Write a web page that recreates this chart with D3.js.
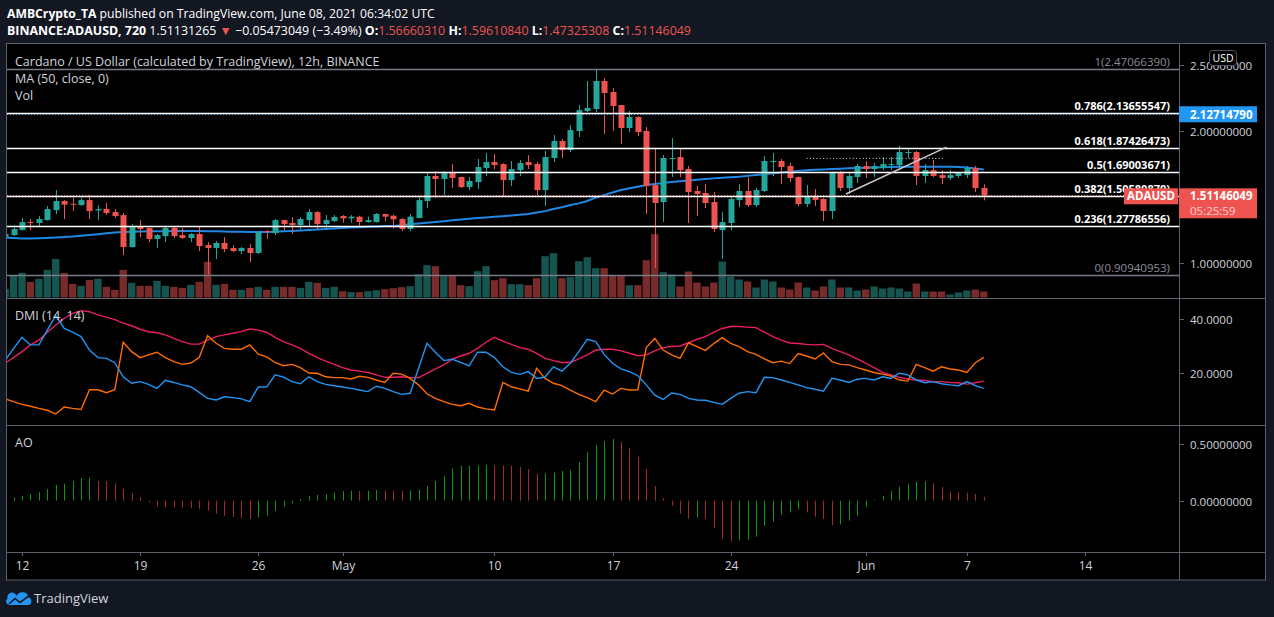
<!DOCTYPE html>
<html><head><meta charset="utf-8">
<script src="https://cdn.jsdelivr.net/npm/d3@7"></script>
<style>
html,body{margin:0;padding:0;background:#131722;overflow:hidden;}
svg{display:block;}
text{font-family:"Open Sans","Noto Sans",sans-serif;white-space:pre;}
</style></head><body>
<svg id="chart" width="1274" height="617"></svg>
<script>
// ---------- DATA (12h candles, first = 2021-04-11 00:00 UTC) ----------
const firstCandle = Date.UTC(2021, 3, 11, 0);
const opens = [1.194,1.209,1.247,1.308,1.301,1.323,1.399,1.468,1.447,1.437,
1.475,1.397,1.407,1.384,1.361,1.118,1.270,1.263,1.179,1.202,
1.263,1.209,1.187,1.217,1.133,1.111,1.149,1.111,1.088,1.111,
1.073,1.240,1.224,1.323,1.301,1.285,1.323,1.384,1.293,1.316,
1.354,1.336,1.349,1.308,1.308,1.369,1.356,1.331,1.255,1.339,
1.468,1.658,1.635,1.688,1.650,1.574,1.612,1.719,1.764,1.749,
1.627,1.703,1.764,1.749,1.551,1.795,1.924,1.855,2.000,2.152,
2.167,2.380,2.296,2.197,2.023,2.106,2.000,1.589,1.460,1.787,
1.802,1.711,1.544,1.529,1.460,1.247,1.301,1.475,1.544,1.437,
1.544,1.764,1.772,1.734,1.650,1.445,1.506,1.483,1.392,1.688,
1.567,1.650,1.734,1.711,1.719,1.741,1.741,1.833,1.840,1.658,
1.703,1.665,1.643,1.658,1.665,1.719,1.5666];
const highs = [1.220,1.285,1.339,1.331,1.354,1.430,1.551,1.475,1.493,1.493,
1.513,1.437,1.453,1.407,1.377,1.293,1.323,1.266,1.217,1.278,
1.278,1.263,1.224,1.270,1.156,1.164,1.194,1.133,1.118,1.141,
1.240,1.247,1.331,1.327,1.346,1.346,1.407,1.392,1.361,1.361,
1.361,1.361,1.356,1.349,1.377,1.372,1.364,1.339,1.369,1.496,
1.688,1.696,1.696,1.749,1.654,1.650,1.787,1.833,1.825,1.755,
1.772,1.779,1.817,1.764,1.848,1.969,1.939,2.045,2.197,2.380,
2.4707,2.403,2.327,2.200,2.152,2.114,2.030,1.863,1.817,1.947,
1.871,1.734,1.582,1.597,1.536,1.384,1.506,1.597,1.650,1.567,
1.810,1.833,1.787,1.757,1.655,1.589,1.559,1.490,1.692,1.696,
1.688,1.749,1.772,1.757,1.802,1.802,1.886,1.863,1.848,1.749,
1.779,1.703,1.703,1.688,1.734,1.734,1.5961];
const lows = [1.190,1.202,1.245,1.247,1.270,1.320,1.369,1.331,1.392,1.432,
1.331,1.323,1.361,1.341,1.057,1.115,1.194,1.156,1.111,1.156,
1.187,1.179,1.156,1.088,0.9094,1.027,1.080,1.080,1.065,1.004,
1.065,1.179,1.209,1.247,1.217,1.255,1.278,1.255,1.263,1.308,
1.303,1.303,1.280,1.303,1.305,1.316,1.260,1.240,1.240,1.336,
1.415,1.493,1.513,1.567,1.567,1.551,1.559,1.658,1.711,1.498,
1.582,1.658,1.711,1.513,1.430,1.764,1.795,1.840,1.954,2.144,
2.144,1.977,2.000,1.901,1.992,1.962,1.369,0.959,1.308,1.650,
1.650,1.301,1.354,1.415,1.232,1.027,1.247,1.422,1.422,1.422,
1.536,1.658,1.597,1.612,1.430,1.422,1.430,1.316,1.331,1.544,
1.521,1.605,1.643,1.650,1.703,1.703,1.703,1.795,1.589,1.605,
1.650,1.597,1.627,1.643,1.643,1.536,1.4733];
const closes = [1.217,1.255,1.308,1.303,1.331,1.407,1.468,1.440,1.443,1.475,
1.392,1.407,1.377,1.354,1.118,1.270,1.255,1.179,1.209,1.263,
1.202,1.187,1.217,1.126,1.111,1.149,1.103,1.088,1.111,1.073,
1.232,1.232,1.323,1.293,1.285,1.331,1.384,1.293,1.323,1.346,
1.336,1.349,1.308,1.323,1.369,1.349,1.329,1.255,1.349,1.475,
1.658,1.635,1.688,1.643,1.574,1.620,1.726,1.764,1.741,1.627,
1.711,1.757,1.741,1.551,1.802,1.924,1.855,2.007,2.159,2.175,
2.380,2.289,2.190,2.023,2.106,1.992,1.582,1.453,1.795,1.795,
1.703,1.536,1.521,1.453,1.255,1.308,1.483,1.544,1.437,1.551,
1.772,1.772,1.726,1.643,1.445,1.506,1.475,1.392,1.688,1.567,
1.658,1.734,1.711,1.734,1.749,1.749,1.840,1.840,1.658,1.703,
1.658,1.643,1.665,1.681,1.719,1.5666,1.5113];
const volumes = [26,65,74,47,56,83,116,74,41,35,
53,56,32,23,83,44,35,35,50,35,
32,29,38,47,107,38,41,23,23,29,
32,23,32,32,32,29,47,44,29,32,
19,16,16,19,22,25,28,31,34,70,
97,94,64,67,37,34,79,94,52,58,
40,40,37,58,124,133,58,61,109,121,
88,88,67,67,37,37,112,190,76,69,
33,78,45,33,45,108,63,54,48,30,
54,48,30,24,45,30,21,33,54,30,
30,21,24,33,27,30,27,18,42,18,
18,18,9,15,21,24,18];
const ma50 = [1.190,1.187,1.184,1.184,1.185,1.187,1.190,1.194,1.198,1.204,
1.210,1.216,1.223,1.229,1.233,1.235,1.237,1.238,1.238,1.239,
1.240,1.240,1.240,1.240,1.239,1.238,1.237,1.235,1.234,1.233,
1.233,1.232,1.235,1.238,1.241,1.244,1.248,1.252,1.256,1.260,
1.263,1.266,1.269,1.272,1.275,1.278,1.279,1.284,1.291,1.297,
1.302,1.308,1.315,1.322,1.328,1.333,1.338,1.343,1.349,1.353,
1.358,1.364,1.369,1.380,1.391,1.407,1.421,1.437,1.450,1.468,
1.494,1.513,1.533,1.551,1.565,1.577,1.590,1.597,1.605,1.612,
1.618,1.624,1.630,1.635,1.640,1.644,1.649,1.653,1.659,1.666,
1.672,1.679,1.685,1.691,1.697,1.702,1.705,1.708,1.711,1.714,
1.716,1.719,1.720,1.722,1.724,1.726,1.728,1.729,1.729,1.729,
1.729,1.729,1.728,1.726,1.722,1.715,1.708];
const plusDI = [24.7,29.0,33.2,30.4,30.4,35.9,41.2,36.5,35.1,33.5,
28.5,25.7,25.4,23.8,18.6,16.2,16.8,15.8,14.3,17.3,
16.5,15.6,14.9,12.8,10.6,10.0,11.2,10.9,10.4,9.4,
14.8,14.8,19.3,18.5,16.8,16.0,18.6,16.8,15.8,15.3,
14.8,14.3,13.7,13.1,15.1,14.3,13.1,12.1,12.5,21.7,
31.0,27.7,24.6,25.1,23.9,22.6,27.7,27.7,25.7,22.3,
20.2,19.5,20.5,18.0,18.5,22.3,20.7,23.6,27.9,32.5,
31.6,26.9,23.6,21.5,20.5,19.0,15.6,11.8,10.2,12.6,
12.1,10.6,10.0,9.9,9.1,8.4,10.6,12.5,13.1,12.7,
18.4,18.3,17.4,16.5,15.6,14.6,14.0,13.3,18.0,17.4,
16.5,17.7,18.0,17.4,18.6,18.0,19.9,19.3,17.4,16.4,
16.8,16.0,15.6,15.3,16.8,15.3,14.3];
const minusDI = [10.4,9.4,8.4,7.7,6.9,6.2,4.8,7.4,6.9,6.5,
13.8,13.8,12.7,13.8,31.4,27.9,25.7,26.7,27.7,25.7,
24.2,23.2,23.7,25.7,33.8,31.0,29.1,28.8,28.8,30.4,
27.0,26.0,23.9,22.7,23.2,22.0,20.0,19.9,18.6,18.3,
18.3,17.8,18.8,18.4,17.4,16.5,19.9,19.6,18.0,15.6,
12.3,10.6,9.4,8.4,7.9,8.8,7.4,6.7,6.3,16.5,
14.9,14.1,13.3,21.7,18.0,16.2,15.3,13.7,12.1,10.9,
9.4,13.7,12.2,14.3,13.7,13.8,29.4,32.8,28.5,26.7,
25.4,31.2,29.8,28.4,30.9,33.1,31.0,29.8,27.9,26.9,
25.2,23.8,24.4,23.5,27.2,26.3,25.2,27.4,24.2,23.2,
23.0,22.0,21.1,20.2,19.6,18.9,17.4,17.0,23.2,22.0,
20.7,22.3,21.5,21.1,20.2,23.8,25.8];
const adx = [23.6,25.7,27.9,30.4,32.2,35.1,37.8,40.2,42.1,43.1,
42.7,41.5,40.7,39.8,38.5,37.5,36.2,35.3,34.9,34.1,
32.8,31.6,30.7,30.7,32.2,33.5,34.1,34.7,35.3,36.3,
35.9,35.1,33.2,31.6,30.4,29.1,27.3,25.7,24.4,23.2,
22.0,21.1,20.7,20.2,19.3,18.4,18.4,18.6,18.3,18.3,
19.9,21.5,23.0,25.1,26.3,27.3,29.1,31.4,33.2,31.8,
30.6,29.4,28.8,27.3,25.4,24.6,23.9,23.9,25.2,26.7,
28.5,28.8,28.8,28.2,27.3,26.4,26.7,28.2,29.4,29.8,
30.0,31.2,32.5,33.5,35.1,36.5,37.2,37.2,37.0,36.8,
35.1,33.5,32.2,31.1,30.9,30.6,30.4,30.6,29.1,27.9,
26.7,25.2,23.7,22.0,20.2,19.3,18.4,17.8,17.4,17.2,
16.8,16.8,16.5,16.4,15.9,16.4,17.0];
const ao = [null,0.029,0.041,0.059,0.074,0.103,0.138,0.150,0.174,0.200,
0.203,0.174,0.171,0.153,0.103,0.065,0.032,-0.015,-0.050,-0.056,
-0.059,-0.062,-0.065,-0.071,-0.085,-0.115,-0.132,-0.144,-0.153,-0.162,
-0.150,-0.132,-0.091,-0.053,-0.024,0.015,0.041,0.050,0.059,0.071,
0.085,0.088,0.085,0.088,0.094,0.091,0.088,0.085,0.091,0.097,
0.129,0.174,0.218,0.285,0.306,0.309,0.312,0.315,0.312,0.309,
0.306,0.297,0.279,0.238,0.241,0.247,0.262,0.271,0.341,0.429,
0.491,0.526,0.544,0.518,0.465,0.385,0.279,0.129,0.021,-0.044,
-0.115,-0.159,-0.150,-0.159,-0.238,-0.335,-0.362,-0.353,-0.344,-0.318,
-0.221,-0.185,-0.121,-0.103,-0.076,-0.103,-0.141,-0.162,-0.215,-0.209,
-0.176,-0.135,-0.053,0.006,0.044,0.085,0.124,0.150,0.168,0.171,
0.153,0.121,0.079,0.074,0.071,0.059,0.035];

const fibLevels = [1, 0.786, 0.618, 0.5, 0.382, 0.236, 0];
const fibPrices = [2.47066390, 2.13655547, 1.87426473, 1.69003671, 1.50580870, 1.27786556, 0.90940953];
const fibLabels = ["1(2.47066390)","0.786(2.13655547)","0.618(1.87426473)","0.5(1.69003671)","0.382(1.50580870)","0.236(1.27786556)","0(0.90940953)"];
const priceTicks = [2.5, 2.0, 1.0];
const priceTickLabels = ["2.50000000","2.00000000","1.00000000"];
const dmiTicks = [40, 20];
const dmiTickLabels = ["40.0000","20.0000"];
const aoTicks = [0.5, 0];
const aoTickLabels = ["0.50000000","0.00000000"];
const timeTicks = [[2021,3,12],[2021,3,19],[2021,3,26],[2021,4,1],[2021,4,10],[2021,4,17],[2021,4,24],[2021,5,1],[2021,5,7],[2021,5,14]];
const timeTickLabels = ["12","19","26","May","10","17","24","Jun","7","14"];
const lastPrice = 1.51146049, lastPriceLabel = "1.51146049", countdown = "05:25:59";
const bluePrice = 2.12714790, bluePriceLabel = "2.12714790";
// user drawings
const trendLine = {t1:[2021,4,30,20], p1:1.521, t2:[2021,5,5,19], p2:1.878};
const dottedRay = {t1:[2021,4,28,12], t2:[2021,5,5,17], p:1.792};

// ---------- LAYOUT ----------
const W = 1274, H = 617;
const L = 7, R = 1179, RR = 1266, T = 43, B = 580;
const mainTop = 43, mainBot = 298, dmiBot = 425, aoBot = 552;
const COL_UP = "#26a69a", COL_DN = "#ef5350", TXT = "#d1d4dc";

const dates = opens.map((_, i) => new Date(firstCandle + i * 12 * 3600 * 1000));
const x = d3.scaleUtc().domain([new Date(Date.UTC(2021,3,12)), new Date(Date.UTC(2021,5,14))]).range([22, 1085]);
const y = d3.scaleLinear().domain([1, 2.5]).range([262.6, 65.2]);
const yVol = d3.scaleLinear().domain([0, 190]).range([297.5, 234.2]);
const yD = d3.scaleLinear().domain([20, 40]).range([373, 319]);
const yA = d3.scaleLinear().domain([0, 0.5]).range([500.7, 444]);
const ut = a => new Date(Date.UTC(a[0], a[1], a[2], a[3] || 0));

const svg = d3.select("#chart");
svg.append("rect").attr("width", W).attr("height", H).attr("fill", "#131722");
svg.append("rect").attr("x", L).attr("y", T).attr("width", RR - L).attr("height", B - T).attr("fill", "#000");

const defs = svg.append("defs");
function clip(id, y0, y1) {
  defs.append("clipPath").attr("id", id).append("rect").attr("x", L).attr("y", y0).attr("width", R - L).attr("height", y1 - y0);
}
clip("cMain", mainTop, mainBot); clip("cDmi", mainBot, dmiBot); clip("cAo", dmiBot, aoBot);

// ---------- MAIN PANE ----------
const gMain = svg.append("g").attr("clip-path", "url(#cMain)");
// volume
gMain.selectAll("rect.vol").data(volumes).join("rect").attr("class", "vol")
  .attr("x", (d, i) => x(dates[i]) - 3.7).attr("width", 7.4)
  .attr("y", d => yVol(d)).attr("height", d => yVol(0) - yVol(d))
  .attr("fill", (d, i) => closes[i] >= opens[i] ? "#16544f" : "#782b2a");
// MA
gMain.append("path").datum(ma50).attr("fill", "none").attr("stroke", "#1e88e5").attr("stroke-width", 2)
  .attr("d", d3.line().x((d, i) => x(dates[i])).y(d => y(d)));
// candles
const cg = gMain.selectAll("g.c").data(opens).join("g").attr("class", "c");
cg.append("line").attr("x1", (d, i) => Math.round(x(dates[i])) + 0.5).attr("x2", (d, i) => Math.round(x(dates[i])) + 0.5)
  .attr("y1", (d, i) => y(highs[i])).attr("y2", (d, i) => y(lows[i]))
  .attr("stroke", (d, i) => closes[i] >= opens[i] ? COL_UP : COL_DN).attr("stroke-width", 1);
cg.append("rect").attr("x", (d, i) => Math.round(x(dates[i])) + 0.5 - 3).attr("width", 6)
  .attr("y", (d, i) => y(Math.max(opens[i], closes[i])))
  .attr("height", (d, i) => Math.max(1, Math.abs(y(opens[i]) - y(closes[i]))))
  .attr("fill", (d, i) => closes[i] >= opens[i] ? COL_UP : COL_DN);
// price lines
gMain.append("line").attr("x1", L).attr("x2", R).attr("y1", Math.round(y(bluePrice)) + 0.5).attr("y2", Math.round(y(bluePrice)) + 0.5)
  .attr("stroke", "#2196f3").attr("stroke-dasharray", "1,2");
gMain.append("line").attr("x1", L).attr("x2", R).attr("y1", Math.round(y(lastPrice)) + 0.5).attr("y2", Math.round(y(lastPrice)) + 0.5)
  .attr("stroke", "#ef5350").attr("stroke-dasharray", "1,2");
// fib
fibPrices.forEach((p, i) => {
  const yy = Math.round(y(p)) + 0.5;
  const edge = fibLevels[i] === 0 || fibLevels[i] === 1;
  gMain.append("line").attr("x1", L).attr("x2", R).attr("y1", yy).attr("y2", yy)
    .attr("stroke", edge ? "#787b86" : "#ffffff").attr("stroke-width", 1.3);
});
// drawings
gMain.append("line").attr("x1", x(ut(dottedRay.t1))).attr("x2", x(ut(dottedRay.t2)))
  .attr("y1", y(dottedRay.p)).attr("y2", y(dottedRay.p)).attr("stroke", "#e0e3eb").attr("stroke-dasharray", "1,2.3");
gMain.append("line").attr("x1", x(ut(trendLine.t1))).attr("x2", x(ut(trendLine.t2)))
  .attr("y1", y(trendLine.p1)).attr("y2", y(trendLine.p2)).attr("stroke", "#c8cad0").attr("stroke-width", 1.5);

// fib labels
fibPrices.forEach((p, i) => {
  const edge = fibLevels[i] === 0 || fibLevels[i] === 1;
  svg.append("text").attr("x", 1170).attr("y", Math.round(y(p)) - 3).attr("text-anchor", "end")
    .attr("fill", edge ? "#8a8d96" : "#ffffff").attr("font-weight", edge ? "normal" : "bold")
    .style("font-size", edge ? "11.5px" : "11px").text(fibLabels[i]);
});

// ---------- DMI ----------
const gD = svg.append("g").attr("clip-path", "url(#cDmi)");
const lineD = d3.line().x((d, i) => x(dates[i])).y(d => yD(d));
[[adx, "#e91e63"], [minusDI, "#ff6d00"], [plusDI, "#2196f3"]].forEach(([arr, col]) => {
  gD.append("path").datum(arr).attr("fill", "none").attr("stroke", col).attr("stroke-width", 1.4).attr("d", lineD);
});

// ---------- AO ----------
const gA = svg.append("g").attr("clip-path", "url(#cAo)");
ao.forEach((v, i) => {
  if (v === null) return;
  const prev = ao[i - 1];
  const up = prev === null || prev === undefined || v > prev;
  const xx = Math.round(x(dates[i])) + 0.5;
  gA.append("line").attr("x1", xx).attr("x2", xx).attr("y1", yA(0)).attr("y2", yA(v))
    .attr("stroke", up ? "#0a9a0a" : "#a82a2a").attr("stroke-width", 1);
});

// ---------- FRAME / SEPARATORS ----------
const FR = "#5d606b";
svg.append("rect").attr("x", L - 0.5).attr("y", T + 0.5).attr("width", RR - L).attr("height", B - T - 0.5)
  .attr("fill", "none").attr("stroke", FR);
[mainBot, dmiBot, aoBot].forEach(v => svg.append("line").attr("x1", L).attr("x2", RR).attr("y1", v + 0.5).attr("y2", v + 0.5).attr("stroke", FR));
svg.append("line").attr("x1", R + 0.5).attr("x2", R + 0.5).attr("y1", T).attr("y2", B).attr("stroke", FR);

// ---------- AXES ----------
function rightAxis(scale, ticks, labels) {
  ticks.forEach((t, i) => {
    const yy = Math.round(scale(t)) + 0.5;
    svg.append("line").attr("x1", R).attr("x2", R + 5).attr("y1", yy).attr("y2", yy).attr("stroke", FR);
    svg.append("text").attr("x", 1190).attr("y", yy + 4.5).attr("fill", TXT).style("font-size", "11.5px").text(labels[i]);
  });
}
rightAxis(y, priceTicks, priceTickLabels);
rightAxis(yD, dmiTicks, dmiTickLabels);
rightAxis(yA, aoTicks, aoTickLabels);

timeTicks.forEach((t, i) => {
  const xx = Math.round(x(ut(t))) + 0.5;
  svg.append("line").attr("x1", xx).attr("x2", xx).attr("y1", aoBot).attr("y2", aoBot + 4).attr("stroke", FR);
  svg.append("text").attr("x", xx).attr("y", 570).attr("text-anchor", "middle").attr("fill", TXT)
    .style("font-size", "12px").text(timeTickLabels[i]);
});

// USD badge
svg.append("rect").attr("x", 1209.5).attr("y", 50.5).attr("width", 27).attr("height", 15).attr("rx", 3)
  .attr("fill", "#000").attr("stroke", "#50535e");
svg.append("text").attr("x", 1223).attr("y", 61.5).attr("text-anchor", "middle").attr("fill", "#fff").style("font-size", "10.5px").text("USD");

// blue label
const yb = y(bluePrice);
svg.append("rect").attr("x", R).attr("y", yb - 8).attr("width", 78).attr("height", 16).attr("fill", "#2196f3");
svg.append("text").attr("x", 1190).attr("y", yb + 4.5).attr("fill", "#fff").attr("font-weight", "bold").style("font-size", "11.5px").text(bluePriceLabel);
// red last price label
const yl = y(lastPrice);
svg.append("rect").attr("x", R).attr("y", yl - 7).attr("width", 78).attr("height", 30).attr("fill", "#ef5350");
svg.append("text").attr("x", 1190).attr("y", yl + 5).attr("fill", "#fff").attr("font-weight", "bold").style("font-size", "11.5px").text(lastPriceLabel);
svg.append("text").attr("x", 1190).attr("y", yl + 20).attr("fill", "#fbd3d2").style("font-size", "11.5px").text(countdown);
svg.append("rect").attr("x", 1124).attr("y", yl - 7).attr("width", 54).attr("height", 16).attr("fill", "#ef5350");
svg.append("text").attr("x", 1151).attr("y", yl + 5).attr("text-anchor", "middle").attr("fill", "#fff").attr("font-weight", "bold").style("font-size", "11.5px").text("ADAUSD");

// ---------- LEGENDS ----------
function legend(txt, yy) {
  svg.append("text").attr("x", 15).attr("y", yy).attr("fill", TXT).style("font-size", "12.5px").text(txt);
}
legend("Cardano / US Dollar (calculated by TradingView), 12h, BINANCE", 65.5);
legend("MA (50, close, 0)", 83);
legend("Vol", 99.5);
legend("DMI (14, 14)", 319.5);
legend("AO", 447);

// ---------- HEADER ----------
const h1 = svg.append("text").attr("x", 7).attr("y", 18).attr("fill", "#fff").style("font-size", "12.2px");
h1.append("tspan").attr("font-weight", "bold").text("AMBCrypto_TA");
h1.append("tspan").text(" published on TradingView.com, June 08, 2021 06:34:02 UTC");
const h2 = svg.append("text").attr("x", 7).attr("y", 35).attr("fill", "#fff").style("font-size", "12.4px");
[["BINANCE:ADAUSD, 720", "#fff", 1], [" 1.51131265 ", "#fff", 0], ["▼", "#ef5350", 0], [" −0.05473049 (−3.49%) ", "#fff", 0],
 ["O:", "#fff", 1], ["1.56660310", "#ef5350", 0], [" H:", "#fff", 1], ["1.59610840", "#ef5350", 0],
 [" L:", "#fff", 1], ["1.47325308", "#ef5350", 0], [" C:", "#fff", 1], ["1.51146049", "#ef5350", 0]]
  .forEach(([t, c, b]) => h2.append("tspan").attr("fill", c).attr("font-weight", b ? "bold" : "normal").text(t));

// ---------- FOOTER LOGO ----------
svg.append("path").attr("d", "M9.5,605 A3.6,3.6 0 0 1 7.5,598.5 A4.6,4.6 0 0 1 16.5,596 A6.3,6.3 0 0 1 28.5,597.5 A3.9,3.9 0 0 1 28.5,605 Z")
  .attr("fill", "#2196f3");
svg.append("polyline").attr("points", "9,604 15,598.5 20,602.5 28,596.5").attr("fill", "none")
  .attr("stroke", "#131722").attr("stroke-width", 1.6);
svg.append("text").attr("x", 34).attr("y", 603).attr("fill", TXT).style("font-size", "13px").text("TradingView");
</script>
</body></html>
